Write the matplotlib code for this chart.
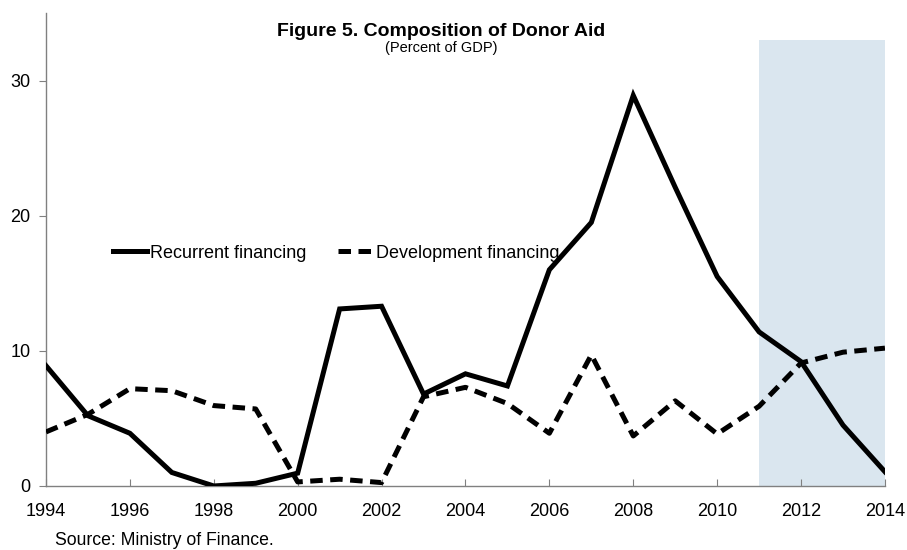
import matplotlib
matplotlib.use("Agg")
import matplotlib.pyplot as plt

plt.rcParams['font.family'] = ['Liberation Sans', 'DejaVu Sans']

years = list(range(1994, 2015))
recurrent = [8.9, 5.2, 3.9, 1.0, 0.0, 0.2, 0.95, 13.1, 13.3, 6.8, 8.3, 7.4,
             16.0, 19.5, 28.9, 22.1, 15.5, 11.4, 9.2, 4.5, 1.05]
development = [4.0, 5.3, 7.2, 7.05, 5.95, 5.7, 0.3, 0.5, 0.25, 6.6, 7.3, 6.1,
               3.9, 9.7, 3.7, 6.3, 3.85, 5.9, 9.1, 9.9, 10.2]
shade_start, shade_end, shade_top = 2011, 2014, 33
xticks = list(range(1994, 2015, 2))
yticks = [0, 10, 20, 30]

fig = plt.figure(figsize=(9.07, 5.5), dpi=100)
ax = fig.add_axes([0.0507, 0.1164, 0.925, 0.86])

ax.fill_between([shade_start, shade_end], 0, shade_top, color='#dae6ef', lw=0, zorder=0)
ax.plot(years, recurrent, color='black', lw=3.6, solid_joinstyle='miter',
        label='Recurrent financing', zorder=3)
ax.plot(years, development, color='black', lw=3.6, dashes=(2.5, 1.5),
        label='Development financing', zorder=3)

ax.set_xlim(1994, 2014)
ax.set_ylim(0, 35)
ax.set_xticks(xticks)
ax.set_yticks(yticks)
ax.tick_params(axis='x', direction='in', length=5, color='#808080', labelsize=13, pad=12)
ax.tick_params(axis='y', direction='out', length=5, color='#808080', labelsize=13, pad=6)
for s in ['top', 'right']:
    ax.spines[s].set_visible(False)
for s in ['left', 'bottom']:
    ax.spines[s].set_color('#808080')
    ax.spines[s].set_linewidth(1.0)

leg = ax.legend(loc='center left', bbox_to_anchor=(113 / 907, 1 - 253 / 550),
                bbox_transform=fig.transFigure, ncol=2, frameon=False,
                borderpad=0, borderaxespad=0,
                fontsize=13, handlelength=1.9, handletextpad=0.17, columnspacing=1.75)

fig.text(0.486, 0.9436, 'Figure 5. Composition of Donor Aid', ha='center', va='center',
         fontsize=14, fontweight='bold')
fig.text(0.486, 0.9127, '(Percent of GDP)', ha='center', va='center', fontsize=10.5)
fig.text(0.0606, 0.018, 'Source: Ministry of Finance.', ha='left', va='center', fontsize=12.7)

fig.savefig('out.png', dpi=100)
